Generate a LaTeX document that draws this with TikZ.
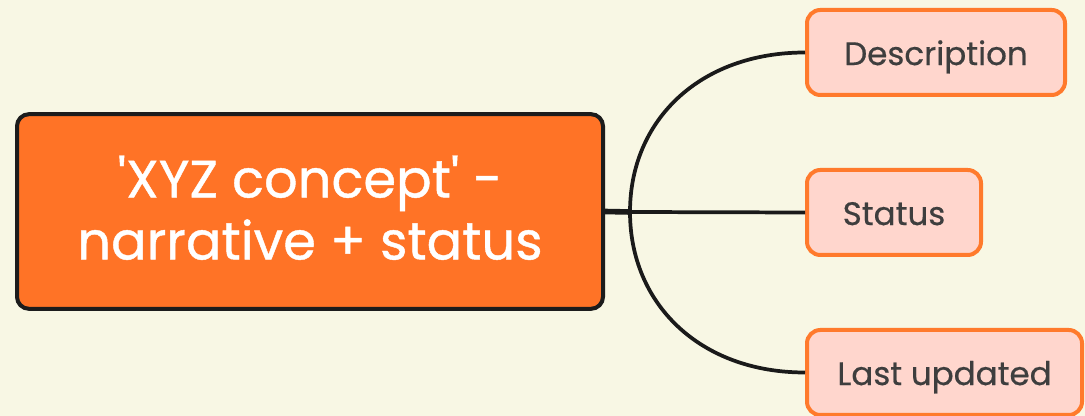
\documentclass[tikz,border=0pt]{standalone}
\usepackage{fontspec}
\setmainfont{Poppins}[Ligatures=TeXOff]
\definecolor{bgc}{HTML}{F8F7E4}
\definecolor{mainfill}{HTML}{FF7326}
\definecolor{mainborder}{HTML}{1C1C1C}
\definecolor{childfill}{HTML}{FFD6CD}
\definecolor{childborder}{HTML}{FF7A2C}
\definecolor{childtext}{HTML}{3E3E3E}
\definecolor{linec}{HTML}{1A1A1A}
\begin{document}
\begin{tikzpicture}[x=0.75pt,y=-0.75pt,
  mainbox/.style={draw=mainborder,fill=mainfill,line width=3pt,rounded corners=9pt,
    minimum width=439.5pt,minimum height=146pt,align=center,text=white,inner sep=0pt,
    text depth=6pt,
    font=\fontsize{39.5}{46.5}\selectfont\addfontfeature{FakeBold=0.8}},
  childbox/.style={draw=childborder,fill=childfill,line width=3pt,rounded corners=10pt,
    minimum height=63.75pt,inner sep=0pt,text=childtext,text height=21pt,text depth=2.2pt,
    font=\fontsize{24.4}{28}\selectfont\addfontfeature{FakeBold=0.5}},
  conn/.style={draw=linec,line width=2.8pt}]
\useasboundingbox (0,0) rectangle (1085,416);
\fill[bgc] (0,0) rectangle (1085,416);
\clip (0,0) rectangle (1085,416);
\node[mainbox] (main) at (310,211.5) {'XYZ concept' -\\narrative + status};
\node[childbox,minimum width=193.5pt] (desc) at (936,52.5) {Description};
\node[childbox,minimum width=130.5pt] (stat) at (894,212.5) {Status};
\node[childbox,minimum width=206.25pt] (last) at (944.5,372.5) {Last updated};
\coordinate (hub) at (630,212);
\draw[conn,line width=4.2pt] (main.east) -- (hub);
\draw[conn] (hub) .. controls (630,120) and (700,52.5) .. (desc.west);
\draw[conn] (hub) -- (stat.west);
\draw[conn] (hub) .. controls (630,304) and (700,372.5) .. (last.west);
\end{tikzpicture}
\end{document}
